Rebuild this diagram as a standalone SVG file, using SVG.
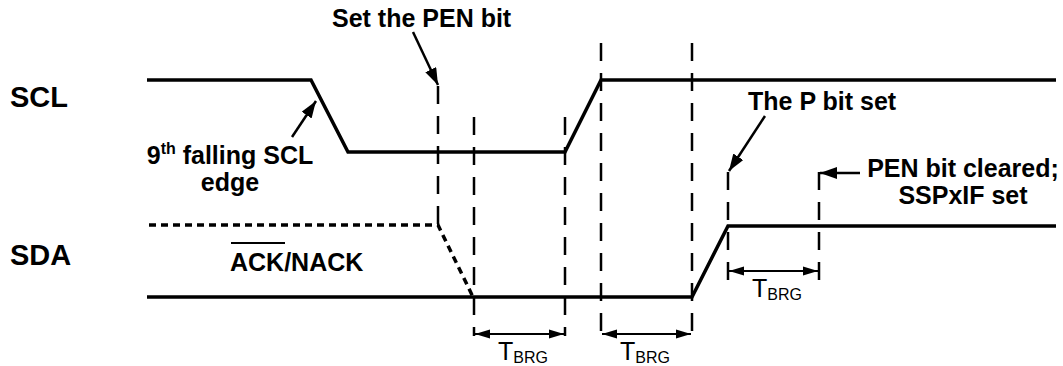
<svg xmlns="http://www.w3.org/2000/svg" width="1063" height="366" viewBox="0 0 1063 366">
<style>
.sig{fill:none;stroke:#000;stroke-width:3.5;stroke-linejoin:miter}
.dot{fill:none;stroke:#000;stroke-width:3.5;stroke-dasharray:7 5}
.dash{fill:none;stroke:#000;stroke-width:2.5;stroke-dasharray:18 12}
.ptr{fill:none;stroke:#000;stroke-width:2.5}
.dim{fill:none;stroke:#000;stroke-width:1.8}
.lbl{font-family:"Liberation Sans",Arial,sans-serif;font-weight:bold;font-size:25px;fill:#000}
.big{font-family:"Liberation Sans",Arial,sans-serif;font-weight:bold;font-size:29px;fill:#000}
.t{font-family:"Liberation Sans",Arial,sans-serif;font-size:25px;fill:#000}
.sub{font-size:16px}
</style>
<defs>
<marker id="ptrHead" markerUnits="userSpaceOnUse" markerWidth="18" markerHeight="12" refX="17" refY="6" orient="auto">
<path d="M0,0 L17,6 L0,12 Z" fill="#000"/>
</marker>
<marker id="dimHead" markerUnits="userSpaceOnUse" markerWidth="16" markerHeight="10" refX="15" refY="5" orient="auto-start-reverse">
<path d="M0,0.5 L15,5 L0,9.5 Z" fill="#000"/>
</marker>
</defs>

<g id="signal-labels">
<text class="big" x="10" y="107">SCL</text>
<text class="big" x="10" y="265">SDA</text>
</g>

<g id="scl-waveform">
<path class="sig" d="M147,80 H311 L348,152 H565 L601,80 H1056"/>
</g>

<g id="sda-waveform">
<path class="dot" d="M149,225 H438 L473,297"/>
<path class="sig" d="M147,297 H692 L728,226 H1056"/>
</g>

<g id="timing-markers">
<line class="dash" x1="438" y1="86" x2="438" y2="225"/>
<line class="dash" x1="474" y1="117" x2="474" y2="336"/>
<line class="dash" x1="565" y1="117" x2="565" y2="336"/>
<line class="dash" x1="601" y1="43" x2="601" y2="336"/>
<line class="dash" x1="692" y1="43" x2="692" y2="336"/>
<line class="dash" x1="728" y1="172" x2="728" y2="281"/>
<line class="dash" x1="819" y1="172" x2="819" y2="281"/>
</g>

<g id="connectors">
<line class="ptr" x1="413" y1="32" x2="438" y2="85" marker-end="url(#ptrHead)"/>
<line class="ptr" x1="292" y1="137" x2="316" y2="101" marker-end="url(#ptrHead)"/>
<line class="ptr" x1="765" y1="116" x2="729" y2="171" marker-end="url(#ptrHead)"/>
<line class="ptr" x1="860" y1="173" x2="820" y2="173" marker-end="url(#ptrHead)"/>
<line class="dim" x1="475" y1="334" x2="564" y2="334" marker-start="url(#dimHead)" marker-end="url(#dimHead)"/>
<line class="dim" x1="602" y1="334" x2="691" y2="334" marker-start="url(#dimHead)" marker-end="url(#dimHead)"/>
<line class="dim" x1="729" y1="271" x2="818" y2="271" marker-start="url(#dimHead)" marker-end="url(#dimHead)"/>
</g>

<g id="label-set-pen">
<text class="lbl" x="332" y="27">Set the PEN bit</text>
</g>
<g id="label-9th-edge">
<text class="lbl" x="230" y="164" text-anchor="middle">9<tspan font-size="16" dy="-10">th</tspan><tspan dy="10"> falling SCL</tspan></text>
<text class="lbl" x="230" y="191" text-anchor="middle">edge</text>
</g>
<g id="label-ack">
<text class="lbl" x="230" y="271">ACK/NACK</text>
<line x1="231" y1="243" x2="285" y2="243" stroke="#000" stroke-width="2"/>
</g>
<g id="label-p-bit">
<text class="lbl" x="748" y="110">The P bit set</text>
</g>
<g id="label-pen-cleared">
<text class="lbl" x="963" y="177" text-anchor="middle">PEN bit cleared;</text>
<text class="lbl" x="963" y="204" text-anchor="middle">SSPxIF set</text>
</g>
<g id="tbrg-labels">
<text class="t" x="498" y="360">T<tspan class="sub" dy="3">BRG</tspan></text>
<text class="t" x="620" y="360">T<tspan class="sub" dy="3">BRG</tspan></text>
<text class="t" x="752" y="297">T<tspan class="sub" dy="3">BRG</tspan></text>
</g>
</svg>
